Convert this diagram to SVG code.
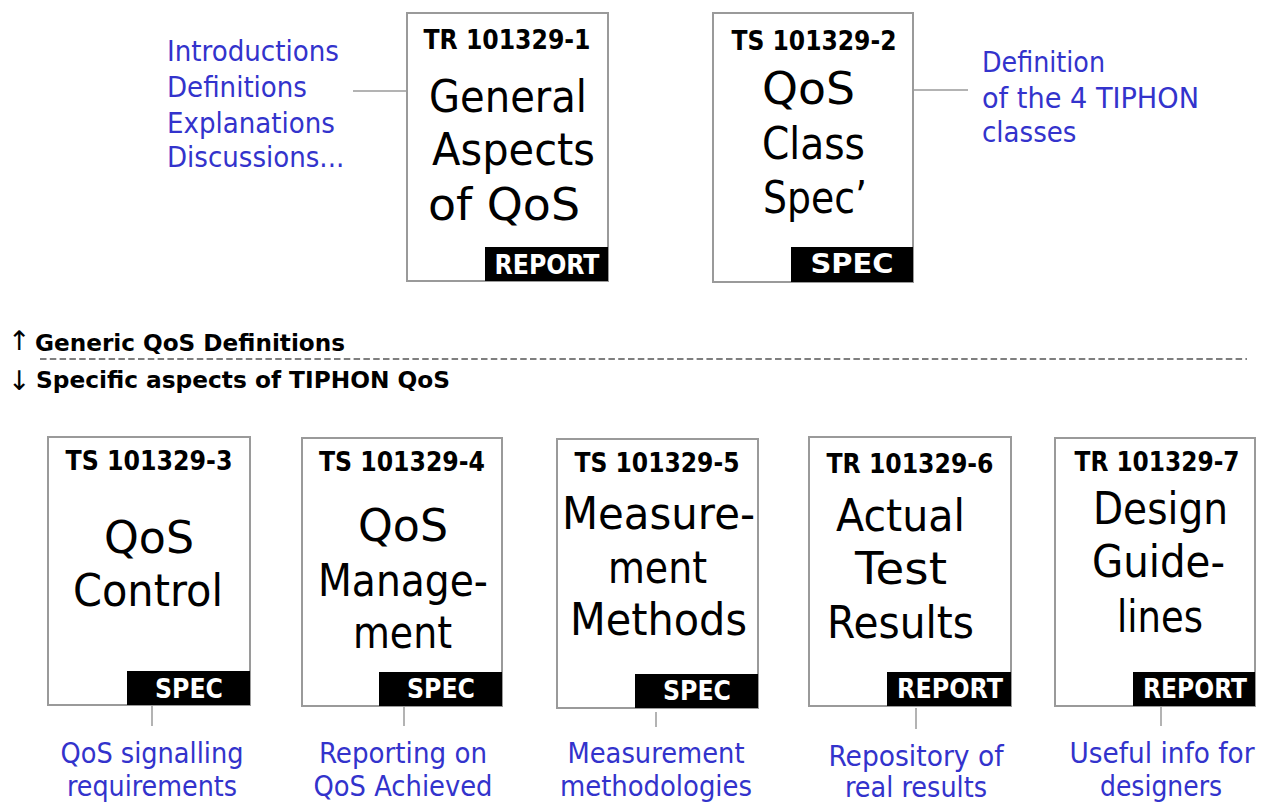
<svg xmlns="http://www.w3.org/2000/svg" width="1261" height="803" viewBox="0 0 1261 803">
<style>
.box{fill:#fff;stroke:#9a9a9a;stroke-width:2}
.lab{fill:#000}
.ttl{font-family:"DejaVu Sans Condensed","DejaVu Sans",sans-serif;font-weight:bold;font-size:26px;fill:#000;text-anchor:middle}
.lt{font-family:"DejaVu Sans Condensed","DejaVu Sans",sans-serif;font-weight:bold;font-size:26px;fill:#fff;text-anchor:middle}
.big{font-family:"Comic Sans MS","DejaVu Sans",sans-serif;font-size:44px;fill:#000}
.blue{font-family:"DejaVu Sans Condensed","DejaVu Sans",sans-serif;font-size:29px;fill:#3333cc}
.bc{text-anchor:middle}
.hdr{font-family:"DejaVu Sans",sans-serif;font-weight:bold;font-size:23px;fill:#000}
.arr{font-family:"DejaVu Sans",sans-serif;font-size:27px;fill:#000}
.con{stroke:#9a9a9a;stroke-width:1.5;fill:none}
</style>
<rect width="1261" height="803" fill="#fff"/>

<g id="connectors">
<line class="con" x1="353" y1="91" x2="407" y2="91"/>
<line class="con" x1="913" y1="90" x2="968" y2="90"/>
<line class="con" x1="152" y1="705" x2="152" y2="726"/>
<line class="con" x1="404" y1="706" x2="404" y2="726"/>
<line class="con" x1="656" y1="712" x2="656" y2="727"/>
<line class="con" x1="916" y1="708" x2="916" y2="729"/>
<line class="con" x1="1161" y1="706" x2="1161" y2="726"/>
</g>

<g id="note-top-left">
<text class="blue" x="167" y="61" textLength="172" lengthAdjust="spacingAndGlyphs">Introductions</text>
<text class="blue" x="167" y="97">Definitions</text>
<text class="blue" x="167" y="133">Explanations</text>
<text class="blue" x="167" y="167">Discussions...</text>
</g>

<g id="note-top-right">
<text class="blue" x="982" y="72" textLength="123" lengthAdjust="spacingAndGlyphs">Definition</text>
<text class="blue" x="982" y="108" textLength="217" lengthAdjust="spacingAndGlyphs">of the 4 TIPHON</text>
<text class="blue" x="982" y="142">classes</text>
</g>

<g id="doc1">
<rect class="box" x="407" y="13" width="201" height="268"/>
<text class="ttl" x="507" y="49" textLength="167" lengthAdjust="spacingAndGlyphs">TR 101329-1</text>
<text class="big" x="429" y="112" textLength="158" lengthAdjust="spacingAndGlyphs">General</text>
<text class="big" x="432" y="165" textLength="163" lengthAdjust="spacingAndGlyphs">Aspects</text>
<text class="big" x="428" y="220" textLength="152" lengthAdjust="spacingAndGlyphs">of QoS</text>
<rect class="lab" x="485" y="247" width="123" height="34"/>
<text class="lt" x="547" y="274" textLength="105" lengthAdjust="spacingAndGlyphs">REPORT</text>
</g>

<g id="doc2">
<rect class="box" x="713" y="13" width="200" height="269"/>
<text class="ttl" x="814" y="50" textLength="165" lengthAdjust="spacingAndGlyphs">TS 101329-2</text>
<text class="big" x="762" y="104" textLength="93" lengthAdjust="spacingAndGlyphs">QoS</text>
<text class="big" x="762" y="159" textLength="103" lengthAdjust="spacingAndGlyphs">Class</text>
<text class="big" x="763" y="213" textLength="104" lengthAdjust="spacingAndGlyphs">Spec’</text>
<rect class="lab" x="791" y="247" width="122" height="35"/>
<text class="lt" x="852" y="273" textLength="83" lengthAdjust="spacingAndGlyphs">SPEC</text>
</g>

<g id="divider">
<text class="arr" x="8" y="350">↑</text>
<text class="hdr" x="35" y="351" textLength="310" lengthAdjust="spacingAndGlyphs">Generic QoS Definitions</text>
<line x1="40" y1="359" x2="1247" y2="359" stroke="#555" stroke-width="1.4" stroke-dasharray="6.5 3.3"/>
<text class="arr" x="8" y="390">↓</text>
<text class="hdr" x="36" y="388" textLength="414" lengthAdjust="spacingAndGlyphs">Specific aspects of TIPHON QoS</text>
</g>

<g id="doc3">
<rect class="box" x="48" y="437" width="202" height="268"/>
<text class="ttl" x="149" y="470" textLength="167" lengthAdjust="spacingAndGlyphs">TS 101329-3</text>
<text class="big" x="104" y="553" textLength="90" lengthAdjust="spacingAndGlyphs">QoS</text>
<text class="big" x="73" y="606" textLength="150" lengthAdjust="spacingAndGlyphs">Control</text>
<rect class="lab" x="127" y="671" width="123" height="34"/>
<text class="lt" x="189" y="698" textLength="68" lengthAdjust="spacingAndGlyphs">SPEC</text>
</g>

<g id="doc4">
<rect class="box" x="302" y="438" width="200" height="268"/>
<text class="ttl" x="402" y="471" textLength="166" lengthAdjust="spacingAndGlyphs">TS 101329-4</text>
<text class="big" x="358" y="541" textLength="90" lengthAdjust="spacingAndGlyphs">QoS</text>
<text class="big" x="318" y="596" textLength="170" lengthAdjust="spacingAndGlyphs">Manage-</text>
<text class="big" x="353" y="648" textLength="99" lengthAdjust="spacingAndGlyphs">ment</text>
<rect class="lab" x="379" y="672" width="123" height="34"/>
<text class="lt" x="441" y="698" textLength="68" lengthAdjust="spacingAndGlyphs">SPEC</text>
</g>

<g id="doc5">
<rect class="box" x="557" y="439" width="201" height="269"/>
<text class="ttl" x="657" y="472" textLength="165" lengthAdjust="spacingAndGlyphs">TS 101329-5</text>
<text class="big" x="562" y="529" textLength="193" lengthAdjust="spacingAndGlyphs">Measure-</text>
<text class="big" x="608" y="583" textLength="99" lengthAdjust="spacingAndGlyphs">ment</text>
<text class="big" x="570" y="635" textLength="177" lengthAdjust="spacingAndGlyphs">Methods</text>
<rect class="lab" x="635" y="674" width="123" height="34"/>
<text class="lt" x="697" y="700" textLength="68" lengthAdjust="spacingAndGlyphs">SPEC</text>
</g>

<g id="doc6">
<rect class="box" x="809" y="437" width="202" height="269"/>
<text class="ttl" x="910" y="473" textLength="167" lengthAdjust="spacingAndGlyphs">TR 101329-6</text>
<text class="big" x="836" y="531" textLength="129" lengthAdjust="spacingAndGlyphs">Actual</text>
<text class="big" x="855" y="584" textLength="92" lengthAdjust="spacingAndGlyphs">Test</text>
<text class="big" x="827" y="638" textLength="147" lengthAdjust="spacingAndGlyphs">Results</text>
<rect class="lab" x="887" y="672" width="124" height="34"/>
<text class="lt" x="950" y="698" textLength="106" lengthAdjust="spacingAndGlyphs">REPORT</text>
</g>

<g id="doc7">
<rect class="box" x="1055" y="438" width="200" height="268"/>
<text class="ttl" x="1157" y="471" textLength="165" lengthAdjust="spacingAndGlyphs">TR 101329-7</text>
<text class="big" x="1093" y="524" textLength="135" lengthAdjust="spacingAndGlyphs">Design</text>
<text class="big" x="1092" y="577" textLength="133" lengthAdjust="spacingAndGlyphs">Guide-</text>
<text class="big" x="1117" y="632" textLength="86" lengthAdjust="spacingAndGlyphs">lines</text>
<rect class="lab" x="1133" y="672" width="122" height="34"/>
<text class="lt" x="1195" y="698" textLength="104" lengthAdjust="spacingAndGlyphs">REPORT</text>
</g>

<g id="note3">
<text class="blue bc" x="152" y="763" textLength="183" lengthAdjust="spacingAndGlyphs">QoS signalling</text>
<text class="blue bc" x="152" y="796" textLength="170" lengthAdjust="spacingAndGlyphs">requirements</text>
</g>
<g id="note4">
<text class="blue bc" x="403" y="763" textLength="168" lengthAdjust="spacingAndGlyphs">Reporting on</text>
<text class="blue bc" x="403" y="796" textLength="179" lengthAdjust="spacingAndGlyphs">QoS Achieved</text>
</g>
<g id="note5">
<text class="blue bc" x="656" y="763" textLength="177" lengthAdjust="spacingAndGlyphs">Measurement</text>
<text class="blue bc" x="656" y="796" textLength="192" lengthAdjust="spacingAndGlyphs">methodologies</text>
</g>
<g id="note6">
<text class="blue bc" x="916" y="766" textLength="175" lengthAdjust="spacingAndGlyphs">Repository of</text>
<text class="blue bc" x="916" y="797" textLength="142" lengthAdjust="spacingAndGlyphs">real results</text>
</g>
<g id="note7">
<text class="blue bc" x="1162" y="763" textLength="185" lengthAdjust="spacingAndGlyphs">Useful info for</text>
<text class="blue bc" x="1161" y="796" textLength="122" lengthAdjust="spacingAndGlyphs">designers</text>
</g>
</svg>
